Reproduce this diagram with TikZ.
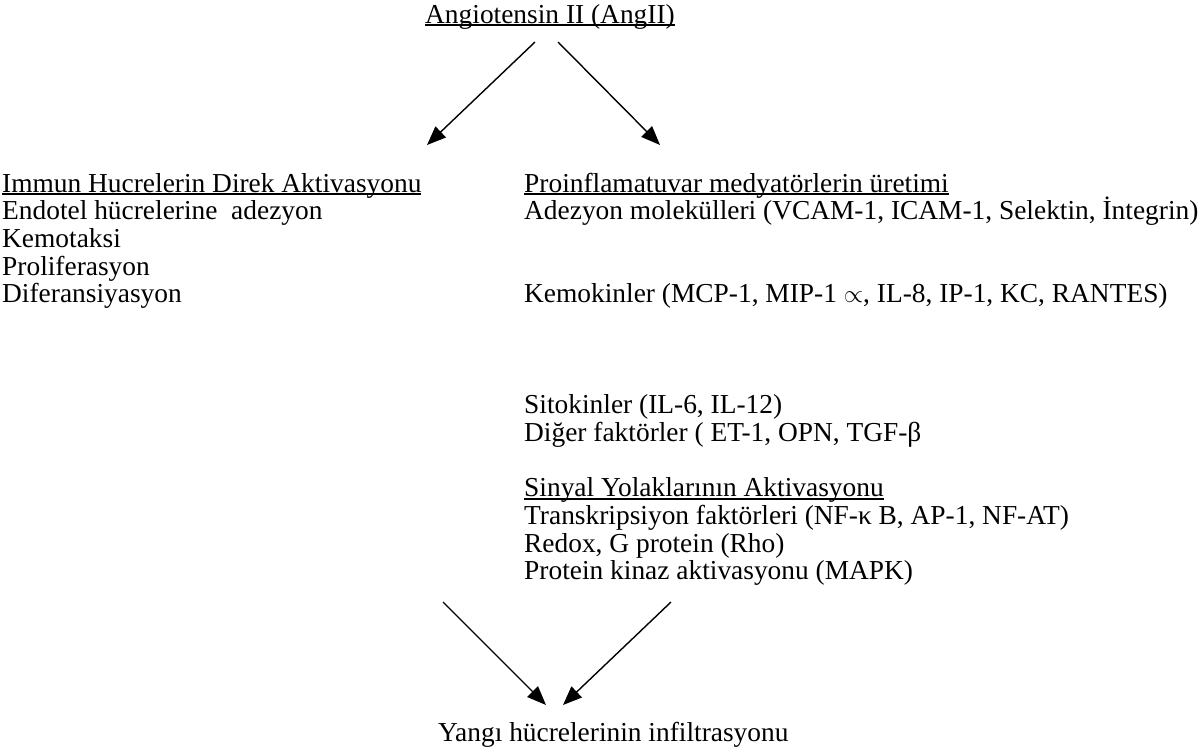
\documentclass[tikz,border=0pt]{standalone}
\usepackage{fontspec}
\setmainfont{Liberation Serif}
\usetikzlibrary{arrows.meta}
\newsavebox\ulbox
\newcommand{\ulx}[1]{\sbox\ulbox{#1}\rlap{\rule[-3pt]{\wd\ulbox}{1.6pt}}\usebox\ulbox}
\tikzset{
  txt/.style={inner sep=0pt, anchor=base west, font=\fontsize{27.4}{30}\selectfont},
  arr/.style={line width=1.4pt, -{Triangle[length=19pt,width=15pt]}}
}
\begin{document}
\begin{tikzpicture}[x=1pt,y=-1pt]
\useasboundingbox (0,0) rectangle (1203,753);
\node[txt] (ang) at (425,23) {\ulx{Angiotensin II (AngII)}};
\coordinate (a1s) at (535,42);
\coordinate (a1e) at (427,145);
\coordinate (a2s) at (558,42);
\coordinate (a2e) at (660,145);
\draw[arr] (a1s) -- (a1e);
\draw[arr] (a2s) -- (a2e);
% left column
\node[txt] (l0) at (2,192) {\ulx{Immun Hucrelerin Direk Aktivasyonu}};
\node[txt] (l1) at (2,219.7) {Endotel hücrelerine\ \ adezyon};
\node[txt] (l2) at (2,247.4) {Kemotaksi};
\node[txt] (l3) at (2,275.1) {Proliferasyon};
\node[txt] (l4) at (2,302.8) {Diferansiyasyon};
% right column
\node[txt] (r0) at (524,192) {\ulx{Proinflamatuvar medyatörlerin üretimi}};
\node[txt] (r1) at (524,219.7) {Adezyon molekülleri (VCAM-1, ICAM-1, Selektin, İntegrin)};
\node[txt] (r2) at (524,302.8) {Kemokinler (MCP-1, MIP-1 $\propto$, IL-8, IP-1, KC, RANTES)};
\node[txt] (r3) at (524,413.6) {Sitokinler (IL-6, IL-12)};
\node[txt] (r4) at (524,441.3) {Diğer faktörler ( ET-1, OPN, TGF-β};
\node[txt] (r5) at (524,496.7) {\ulx{Sinyal Yolaklarının Aktivasyonu}};
\node[txt] (r6) at (524,524.4) {Transkripsiyon faktörleri (NF-κ B, AP-1, NF-AT)};
\node[txt] (r7) at (524,552.1) {Redox, G protein (Rho)};
\node[txt] (r8) at (524,579.8) {Protein kinaz aktivasyonu (MAPK)};
% bottom
\coordinate (b1s) at (443,602);
\coordinate (b1e) at (546,705);
\coordinate (b2s) at (671,602);
\coordinate (b2e) at (563,705);
\draw[arr] (b1s) -- (b1e);
\draw[arr] (b2s) -- (b2e);
\node[txt] (yang) at (438,741) {Yangı hücrelerinin infiltrasyonu};
\end{tikzpicture}
\end{document}
